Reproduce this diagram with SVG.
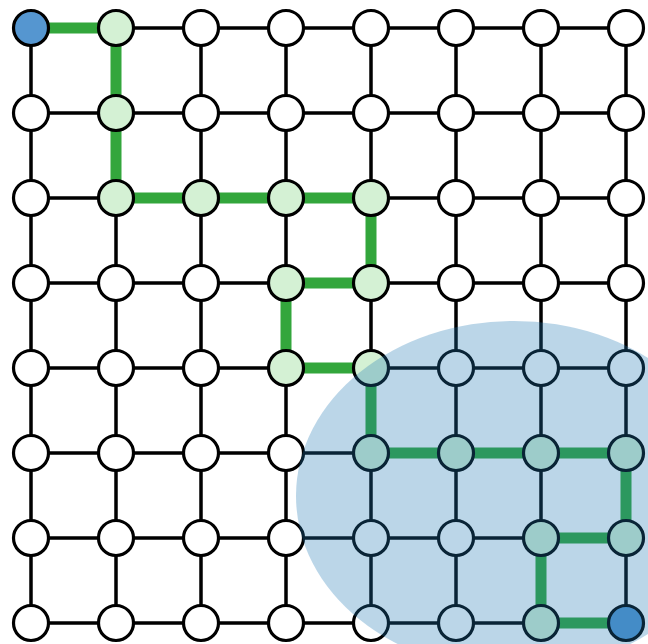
<svg xmlns="http://www.w3.org/2000/svg" width="648" height="644" viewBox="0 0 648 644">
<style>
.e{stroke:#000;stroke-width:3.5;fill:none}
.g{stroke:#33a63c;stroke-width:11;fill:none;stroke-linejoin:miter}
circle{stroke:#000;stroke-width:3.2}
.n circle{fill:#fff}
.p circle{fill:#d4f1d4}
.s circle{fill:#5596d0}
.region{fill:#1f77b4;fill-opacity:0.3}
</style>
<rect width="648" height="644" fill="#fff"/>
<g id="connectors">
<path class="e" d="M31 28H116M116 28H201M201 28H286M286 28H371M371 28H456M456 28H541M541 28H626"/>
<path class="e" d="M31 113H116M116 113H201M201 113H286M286 113H371M371 113H456M456 113H541M541 113H626"/>
<path class="e" d="M31 198H116M116 198H201M201 198H286M286 198H371M371 198H456M456 198H541M541 198H626"/>
<path class="e" d="M31 283H116M116 283H201M201 283H286M286 283H371M371 283H456M456 283H541M541 283H626"/>
<path class="e" d="M31 368H116M116 368H201M201 368H286M286 368H371M371 368H456M456 368H541M541 368H626"/>
<path class="e" d="M31 453H116M116 453H201M201 453H286M286 453H371M371 453H456M456 453H541M541 453H626"/>
<path class="e" d="M31 538H116M116 538H201M201 538H286M286 538H371M371 538H456M456 538H541M541 538H626"/>
<path class="e" d="M31 623H116M116 623H201M201 623H286M286 623H371M371 623H456M456 623H541M541 623H626"/>
<path class="e" d="M31 28V113M31 113V198M31 198V283M31 283V368M31 368V453M31 453V538M31 538V623"/>
<path class="e" d="M116 28V113M116 113V198M116 198V283M116 283V368M116 368V453M116 453V538M116 538V623"/>
<path class="e" d="M201 28V113M201 113V198M201 198V283M201 283V368M201 368V453M201 453V538M201 538V623"/>
<path class="e" d="M286 28V113M286 113V198M286 198V283M286 283V368M286 368V453M286 453V538M286 538V623"/>
<path class="e" d="M371 28V113M371 113V198M371 198V283M371 283V368M371 368V453M371 453V538M371 538V623"/>
<path class="e" d="M456 28V113M456 113V198M456 198V283M456 283V368M456 368V453M456 453V538M456 538V623"/>
<path class="e" d="M541 28V113M541 113V198M541 198V283M541 283V368M541 368V453M541 453V538M541 538V623"/>
<path class="e" d="M626 28V113M626 113V198M626 198V283M626 283V368M626 368V453M626 453V538M626 538V623"/>
<polyline class="g" points="31,28 116,28 116,113 116,198 201,198 286,198 371,198 371,283 286,283 286,368 371,368 371,453 456,453 541,453 626,453 626,538 541,538 541,623 626,623"/>
</g>
<g id="nodes">
<g id="n0-0" class="s"><circle cx="31" cy="28" r="17.5"/></g>
<g id="n0-1" class="p"><circle cx="116" cy="28" r="17.5"/></g>
<g id="n0-2" class="n"><circle cx="201" cy="28" r="17.5"/></g>
<g id="n0-3" class="n"><circle cx="286" cy="28" r="17.5"/></g>
<g id="n0-4" class="n"><circle cx="371" cy="28" r="17.5"/></g>
<g id="n0-5" class="n"><circle cx="456" cy="28" r="17.5"/></g>
<g id="n0-6" class="n"><circle cx="541" cy="28" r="17.5"/></g>
<g id="n0-7" class="n"><circle cx="626" cy="28" r="17.5"/></g>
<g id="n1-0" class="n"><circle cx="31" cy="113" r="17.5"/></g>
<g id="n1-1" class="p"><circle cx="116" cy="113" r="17.5"/></g>
<g id="n1-2" class="n"><circle cx="201" cy="113" r="17.5"/></g>
<g id="n1-3" class="n"><circle cx="286" cy="113" r="17.5"/></g>
<g id="n1-4" class="n"><circle cx="371" cy="113" r="17.5"/></g>
<g id="n1-5" class="n"><circle cx="456" cy="113" r="17.5"/></g>
<g id="n1-6" class="n"><circle cx="541" cy="113" r="17.5"/></g>
<g id="n1-7" class="n"><circle cx="626" cy="113" r="17.5"/></g>
<g id="n2-0" class="n"><circle cx="31" cy="198" r="17.5"/></g>
<g id="n2-1" class="p"><circle cx="116" cy="198" r="17.5"/></g>
<g id="n2-2" class="p"><circle cx="201" cy="198" r="17.5"/></g>
<g id="n2-3" class="p"><circle cx="286" cy="198" r="17.5"/></g>
<g id="n2-4" class="p"><circle cx="371" cy="198" r="17.5"/></g>
<g id="n2-5" class="n"><circle cx="456" cy="198" r="17.5"/></g>
<g id="n2-6" class="n"><circle cx="541" cy="198" r="17.5"/></g>
<g id="n2-7" class="n"><circle cx="626" cy="198" r="17.5"/></g>
<g id="n3-0" class="n"><circle cx="31" cy="283" r="17.5"/></g>
<g id="n3-1" class="n"><circle cx="116" cy="283" r="17.5"/></g>
<g id="n3-2" class="n"><circle cx="201" cy="283" r="17.5"/></g>
<g id="n3-3" class="p"><circle cx="286" cy="283" r="17.5"/></g>
<g id="n3-4" class="p"><circle cx="371" cy="283" r="17.5"/></g>
<g id="n3-5" class="n"><circle cx="456" cy="283" r="17.5"/></g>
<g id="n3-6" class="n"><circle cx="541" cy="283" r="17.5"/></g>
<g id="n3-7" class="n"><circle cx="626" cy="283" r="17.5"/></g>
<g id="n4-0" class="n"><circle cx="31" cy="368" r="17.5"/></g>
<g id="n4-1" class="n"><circle cx="116" cy="368" r="17.5"/></g>
<g id="n4-2" class="n"><circle cx="201" cy="368" r="17.5"/></g>
<g id="n4-3" class="p"><circle cx="286" cy="368" r="17.5"/></g>
<g id="n4-4" class="p"><circle cx="371" cy="368" r="17.5"/></g>
<g id="n4-5" class="n"><circle cx="456" cy="368" r="17.5"/></g>
<g id="n4-6" class="n"><circle cx="541" cy="368" r="17.5"/></g>
<g id="n4-7" class="n"><circle cx="626" cy="368" r="17.5"/></g>
<g id="n5-0" class="n"><circle cx="31" cy="453" r="17.5"/></g>
<g id="n5-1" class="n"><circle cx="116" cy="453" r="17.5"/></g>
<g id="n5-2" class="n"><circle cx="201" cy="453" r="17.5"/></g>
<g id="n5-3" class="n"><circle cx="286" cy="453" r="17.5"/></g>
<g id="n5-4" class="p"><circle cx="371" cy="453" r="17.5"/></g>
<g id="n5-5" class="p"><circle cx="456" cy="453" r="17.5"/></g>
<g id="n5-6" class="p"><circle cx="541" cy="453" r="17.5"/></g>
<g id="n5-7" class="p"><circle cx="626" cy="453" r="17.5"/></g>
<g id="n6-0" class="n"><circle cx="31" cy="538" r="17.5"/></g>
<g id="n6-1" class="n"><circle cx="116" cy="538" r="17.5"/></g>
<g id="n6-2" class="n"><circle cx="201" cy="538" r="17.5"/></g>
<g id="n6-3" class="n"><circle cx="286" cy="538" r="17.5"/></g>
<g id="n6-4" class="n"><circle cx="371" cy="538" r="17.5"/></g>
<g id="n6-5" class="n"><circle cx="456" cy="538" r="17.5"/></g>
<g id="n6-6" class="p"><circle cx="541" cy="538" r="17.5"/></g>
<g id="n6-7" class="p"><circle cx="626" cy="538" r="17.5"/></g>
<g id="n7-0" class="n"><circle cx="31" cy="623" r="17.5"/></g>
<g id="n7-1" class="n"><circle cx="116" cy="623" r="17.5"/></g>
<g id="n7-2" class="n"><circle cx="201" cy="623" r="17.5"/></g>
<g id="n7-3" class="n"><circle cx="286" cy="623" r="17.5"/></g>
<g id="n7-4" class="n"><circle cx="371" cy="623" r="17.5"/></g>
<g id="n7-5" class="n"><circle cx="456" cy="623" r="17.5"/></g>
<g id="n7-6" class="p"><circle cx="541" cy="623" r="17.5"/></g>
<g id="n7-7" class="s"><circle cx="626" cy="623" r="17.5"/></g>
</g>
<ellipse id="region" class="region" cx="514" cy="496" rx="218" ry="175"/>
</svg>
